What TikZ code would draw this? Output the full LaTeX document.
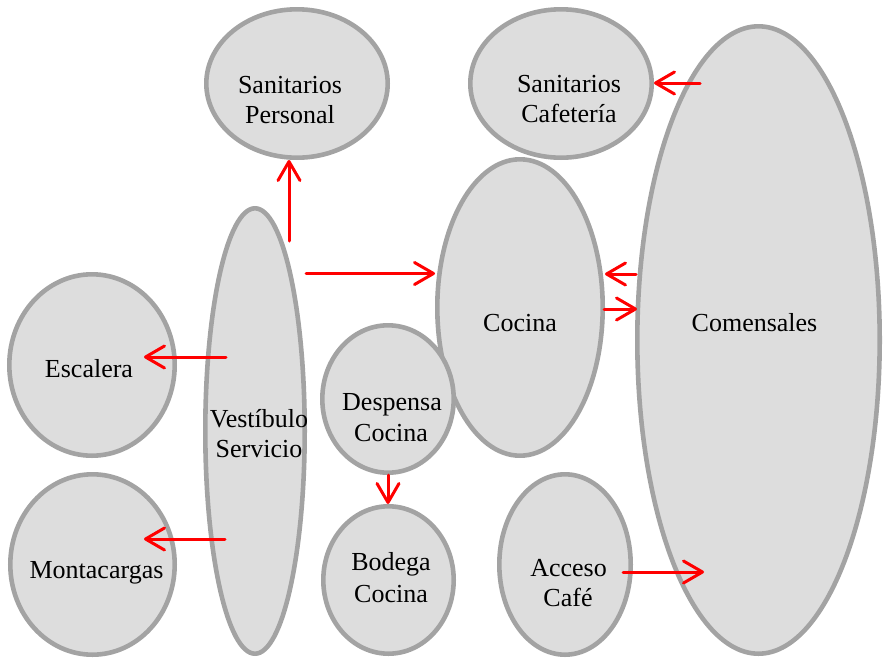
\documentclass[tikz,border=0pt]{standalone}
\usepackage{fontspec}
\setmainfont{Liberation Serif}
\usetikzlibrary{shapes.geometric,arrows.meta}
\definecolor{bubfill}{HTML}{DDDDDD}
\definecolor{bubline}{HTML}{A3A3A3}
\definecolor{arrred}{HTML}{FF0000}
\begin{document}
\begin{tikzpicture}[x=1pt,y=-1pt,
  bub/.style={ellipse,draw=bubline,fill=bubfill,line width=4.6pt,inner sep=0pt},
  lbl/.style={anchor=base,inner sep=0pt,font=\fontsize{26}{31}\selectfont},
  arr/.style={draw=arrred,line width=3pt,line cap=round,
    -{Straight Barb[length=19pt,width=22pt,line cap=round,line join=round]}}]
\useasboundingbox (0,0) rectangle (883,659);
% ellipses
\node[bub,minimum width=165.4pt,minimum height=296.4pt] (coc) at (520,307.5) {};
\node[bub,minimum width=242.4pt,minimum height=627.4pt] (com) at (758.5,340) {};
\node[bub,minimum width=181.4pt,minimum height=148.4pt] (sp) at (297,83.5) {};
\node[bub,minimum width=181.4pt,minimum height=148.4pt] (sc) at (561,83.5) {};
\node[bub,minimum width=99.4pt,minimum height=445.4pt] (ves) at (255,431) {};
\node[bub,minimum width=165.4pt,minimum height=181.4pt] (esc) at (92,365) {};
\node[bub,minimum width=164.4pt,minimum height=180.4pt] (mon) at (92.5,564.5) {};
\node[bub,minimum width=131.4pt,minimum height=147.4pt] (des) at (388,399) {};
\node[bub,minimum width=130.4pt,minimum height=147.4pt] (bod) at (388.5,580) {};
\node[bub,minimum width=131.4pt,minimum height=180.4pt] (acc) at (565,564.5) {};
% labels
\node[lbl] (sp1) at (290,93.5) {Sanitarios};
\node[lbl] (sp2) at (290,123) {Personal};
\node[lbl] (sc1) at (569,92) {Sanitarios};
\node[lbl] (sc2) at (569,122.5) {Cafetería};
\node[lbl] (coct) at (520,331) {Cocina};
\node[lbl] (comt) at (754.5,331) {Comensales};
\node[lbl] (esct) at (89,377) {Escalera};
\node[lbl] (ves1) at (259,427) {Vestíbulo};
\node[lbl] (ves2) at (259,457) {Servicio};
\node[lbl] (mont) at (96.5,578) {Montacargas};
\node[lbl] (des1) at (392,410) {Despensa};
\node[lbl] (des2) at (391,441) {Cocina};
\node[lbl] (bod1) at (391,570) {Bodega};
\node[lbl] (bod2) at (391,602) {Cocina};
\node[lbl] (acc1) at (568.5,576) {Acceso};
\node[lbl] (acc2) at (568,606) {Café};
% connector ends
\coordinate (a1) at (289,241);
\coordinate (a2) at (306,273.5);
\coordinate (a3) at (700,83);
\coordinate (a4) at (636,274);
\coordinate (a5) at (604,309);
\coordinate (b5) at (637,309);
\coordinate (a6) at (226,357);
\coordinate (b6) at (144,357);
\coordinate (a7) at (225,539);
\coordinate (b7) at (144,539);
\coordinate (a9) at (623,572);
\coordinate (b9) at (704,572);
% connectors
\draw[arr] (a1) -- (a1 |- sp.south);
\draw[arr] (a2) -- (a2 -| coc.west);
\draw[arr] (a3) -- (a3 -| sc.east);
\draw[arr] (a4) -- (a4 -| coc.east);
\draw[arr] (a5) -- (b5);
\draw[arr] (a6) -- (b6);
\draw[arr] (a7) -- (b7);
\draw[arr] (des.south) -- (des.south |- bod.north);
\draw[arr] (a9) -- (b9);
\end{tikzpicture}
\end{document}
